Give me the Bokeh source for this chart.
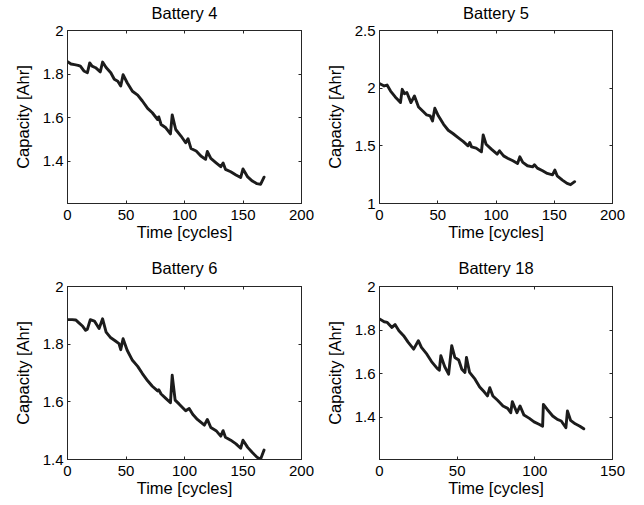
from bokeh.plotting import figure
from bokeh.layouts import column, row
from bokeh.models import LinearAxis, FixedTicker, NumeralTickFormatter, Range1d
from bokeh.embed import file_html
from bokeh.resources import INLINE

# ---------------- data ----------------
b4_cycle = [0, 3, 6, 9, 11, 14, 17, 19, 21, 24, 28, 30, 33, 37, 40, 43, 45.5, 47.5, 51, 55.5,
            60, 64, 68.5, 72.5, 77, 78, 80, 84, 88, 89.5, 92.5, 97, 101, 103, 105.5, 110, 114, 118,
            119.5, 122.5, 127, 131, 133, 135, 139.5, 144, 148, 150, 154, 158, 162, 165, 168]
b4_cap = [1.857, 1.846, 1.843, 1.840, 1.836, 1.814, 1.806, 1.851, 1.836, 1.829, 1.810, 1.855, 1.830,
          1.806, 1.776, 1.767, 1.745, 1.797, 1.760, 1.721, 1.703, 1.676, 1.642, 1.622, 1.591, 1.603,
          1.568, 1.553, 1.525, 1.612, 1.545, 1.515, 1.484, 1.503, 1.458, 1.446, 1.423, 1.408, 1.444,
          1.412, 1.392, 1.374, 1.391, 1.362, 1.351, 1.336, 1.324, 1.364, 1.327, 1.308, 1.296, 1.293,
          1.326]

b5_cycle = [0, 2, 4, 6.5, 9.5, 13.5, 18, 19.5, 21.5, 23.5, 27, 30, 33.5, 37.5, 40.5, 43.5, 45.5,
            47.5, 50.5, 55, 59, 63, 67.5, 72, 76, 77.5, 79, 83, 87.5, 89, 91.5, 96, 101, 103, 106.5,
            110, 114.5, 118.5, 120.5, 123, 127, 131.5, 133, 135.5, 140, 144, 148.5, 150.5, 152.5,
            157, 161, 164, 167.5]
b5_cap = [2.039, 2.030, 2.019, 2.027, 1.975, 1.924, 1.875, 1.990, 1.952, 1.962, 1.875, 1.932, 1.837,
          1.797, 1.768, 1.760, 1.716, 1.826, 1.760, 1.687, 1.635, 1.607, 1.572, 1.537, 1.500, 1.529,
          1.491, 1.480, 1.448, 1.595, 1.514, 1.471, 1.428, 1.457, 1.413, 1.393, 1.370, 1.347, 1.405,
          1.356, 1.327, 1.318, 1.336, 1.307, 1.284, 1.261, 1.249, 1.290, 1.240, 1.203, 1.174, 1.163,
          1.189]

b6_cycle = [0, 4, 7, 10, 13, 15.5, 17, 19.5, 23, 27, 30, 33, 37, 41, 44, 45.5, 47.5, 51, 55.5, 60,
            64, 68.5, 72.5, 77, 78, 80, 84, 88, 89.5, 92, 95.5, 101, 104, 107, 111, 117, 119.5,
            122.5, 127, 131, 133, 135, 139.5, 144, 148, 150, 154, 158, 162, 165, 168]
b6_cap = [1.885, 1.885, 1.884, 1.873, 1.862, 1.848, 1.852, 1.885, 1.880, 1.854, 1.888, 1.842, 1.822,
          1.811, 1.802, 1.781, 1.819, 1.779, 1.744, 1.723, 1.698, 1.673, 1.654, 1.638, 1.642, 1.627,
          1.612, 1.597, 1.692, 1.606, 1.592, 1.569, 1.577, 1.557, 1.539, 1.519, 1.539, 1.511, 1.500,
          1.481, 1.500, 1.477, 1.467, 1.454, 1.439, 1.467, 1.442, 1.424, 1.408, 1.401, 1.433]

b18_cycle = [0, 3, 5, 8, 10, 12.5, 15.5, 18.5, 22, 25, 27, 30.5, 33.5, 37, 38.5, 39.5, 42, 44.5,
             46.5, 48.5, 51, 53, 55, 56, 58, 61.5, 64.5, 67.5, 69.5, 71, 73, 76, 79.5, 82.5, 84.5,
             85.5, 88.5, 90.5, 93, 96.5, 99.5, 103, 105, 105.5, 108, 111.5, 114.5, 117, 120, 121,
             123, 126, 129, 131.5]
b18_cap = [1.851, 1.838, 1.835, 1.812, 1.825, 1.797, 1.774, 1.743, 1.712, 1.751, 1.720, 1.689, 1.655,
           1.625, 1.615, 1.682, 1.631, 1.597, 1.728, 1.674, 1.662, 1.620, 1.605, 1.674, 1.605, 1.574,
           1.538, 1.515, 1.497, 1.535, 1.497, 1.477, 1.451, 1.440, 1.420, 1.471, 1.420, 1.451, 1.409,
           1.394, 1.378, 1.366, 1.358, 1.458, 1.435, 1.405, 1.389, 1.382, 1.351, 1.428, 1.385, 1.369,
           1.358, 1.346]

titles = ["Battery 4", "Battery 5", "Battery 6", "Battery 18"]
x_label = "Time [cycles]"
y_label = "Capacity [Ahr]"
xticks_200 = [0, 50, 100, 150, 200]
xticks_150 = [0, 50, 100, 150]
yticks_a = [1.4, 1.6, 1.8, 2]
yticks_b = [1, 1.5, 2, 2.5]
yticks_c = [1.4, 1.6, 1.8, 2]

FONT = "Liberation Sans"
AX = "#262626"
LINE = "#1c1c1c"


def make(title, xs, ys, xr, yr, xticks, yticks, width, height, mbl, mbr, mbt, mbb, tstand):
    p = figure(width=width, height=height, x_range=Range1d(*xr), y_range=Range1d(*yr),
               output_backend="svg", toolbar_location=None, title=None,
               min_border_left=mbl, min_border_right=mbr,
               min_border_top=mbt, min_border_bottom=mbb)
    p.grid.visible = False
    p.outline_line_color = AX
    p.outline_line_width = 1
    p.background_fill_color = "white"
    p.border_fill_color = "white"

    p.line(xs, ys, line_width=2.9, line_color=LINE, line_join="round", line_cap="round")

    for ax, ticks in ((p.xaxis[0], xticks), (p.yaxis[0], yticks)):
        ax.ticker = FixedTicker(ticks=ticks)
        ax.major_tick_in = 3
        ax.major_tick_out = 0
        ax.minor_tick_line_color = None
        ax.axis_line_color = AX
        ax.major_tick_line_color = AX
        ax.major_label_text_font = FONT
        ax.major_label_text_font_size = "15px"
        ax.major_label_text_color = "#000000"
        ax.axis_label_text_font = FONT
        ax.axis_label_text_font_size = "16.5px"
        ax.axis_label_text_font_style = "normal"
        ax.axis_label_text_color = "#000000"
    p.xaxis[0].axis_label = x_label
    p.yaxis[0].axis_label = y_label
    p.xaxis[0].major_label_standoff = 6
    p.xaxis[0].axis_label_standoff = 0
    p.yaxis[0].major_label_standoff = 4
    p.yaxis[0].axis_label_standoff = 8
    p.yaxis[0].formatter = NumeralTickFormatter(format="0.[0]")

    # top axis carries the panel title as its label; right axis only ticks
    top = LinearAxis(ticker=FixedTicker(ticks=xticks), major_tick_in=3, major_tick_out=0,
                     minor_tick_line_color=None, axis_line_color=AX, major_tick_line_color=AX,
                     major_label_text_font_size="0px", major_label_text_color=None,
                     major_label_standoff=0,
                     axis_label=title, axis_label_standoff=tstand,
                     axis_label_text_font=FONT, axis_label_text_font_size="16.5px",
                     axis_label_text_font_style="normal", axis_label_text_color="#000000")
    p.add_layout(top, "above")
    right = LinearAxis(ticker=FixedTicker(ticks=yticks), major_tick_in=3, major_tick_out=0,
                       minor_tick_line_color=None, axis_line_color=AX, major_tick_line_color=AX,
                       major_label_text_font_size="0px", major_label_text_color=None,
                       major_label_standoff=0)
    p.add_layout(right, "right")
    return p


p1 = make(titles[0], b4_cycle, b4_cap, (0, 200), (1.205, 2), xticks_200, yticks_a,
          322, 250, 67, 21, 29, 47, 9)
p2 = make(titles[1], b5_cycle, b5_cap, (0, 200), (1, 2.5), xticks_200, yticks_b,
          321, 250, 55, 31, 29, 47, 9)
p3 = make(titles[2], b6_cycle, b6_cap, (0, 200), (1.4, 2), xticks_200, yticks_c,
          322, 254, 67, 21, 36, 45, 10)
p4 = make(titles[3], b18_cycle, b18_cap, (0, 150), (1.205, 2), xticks_150, yticks_a,
          321, 254, 55, 31, 36, 45, 10)

layout = column(row(p1, p2), row(p3, p4))

open("out.html", "w").write(file_html(layout, INLINE))
